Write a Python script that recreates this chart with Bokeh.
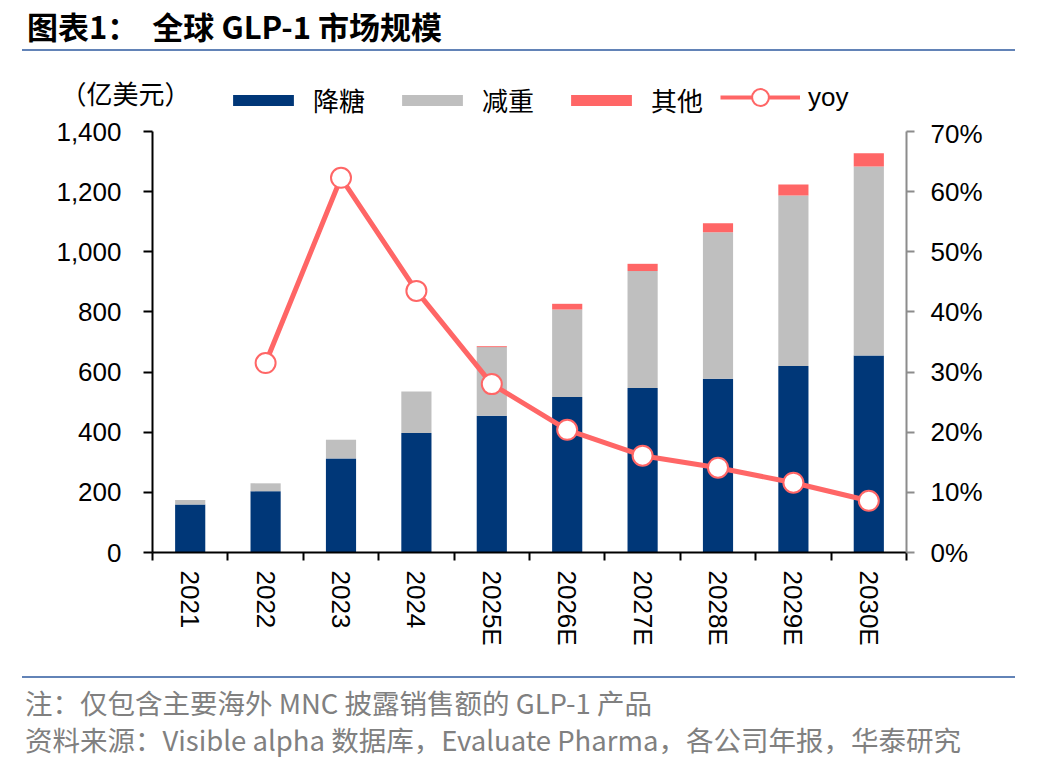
import math
from bokeh.plotting import figure
from bokeh.models import (ColumnDataSource, Range1d, LinearAxis, FixedTicker,
                          NumeralTickFormatter, Legend, LegendItem, Div)
from bokeh.layouts import column
from bokeh.embed import file_html
from bokeh.resources import INLINE

# ---- data ----
years = ["2021", "2022", "2023", "2024", "2025E", "2026E", "2027E", "2028E", "2029E", "2030E"]
diabetes = [160, 204, 313, 397, 455, 517, 547, 578, 620, 655]      # 降糖
obesity = [15, 26, 62, 138, 228, 291, 389, 487, 567, 629]          # 减重
others = [0, 0, 0, 0, 3, 19, 24, 30, 37, 44]                       # 其他
yoy_years = ["2022", "2023", "2024", "2025E", "2026E", "2027E", "2028E", "2029E", "2030E"]
yoy = [31.5, 62.3, 43.5, 28.0, 20.4, 16.1, 14.1, 11.6, 8.6]        # %
left_ticks = [0, 200, 400, 600, 800, 1000, 1200, 1400]
right_ticks = [0, 10, 20, 30, 40, 50, 60, 70]
series_names = ["降糖", "减重", "其他"]
line_name = "yoy"
unit_text = "（亿美元）"

CJK = "Noto Sans CJK SC"
LAT = "Liberation Sans"
BLUE = "#003778"
GRAY = "#BFBFBF"
RED = "#FF6666"
RULE = "#6283B7"
colors = [BLUE, GRAY, RED]

idx = list(range(len(years)))
src = ColumnDataSource(dict(x=idx, diabetes=diabetes, obesity=obesity, others=others))
yoy_x = [years.index(y) for y in yoy_years]
lsrc = ColumnDataSource(dict(x=yoy_x, yoy=yoy))

BL, BR = 152, 142           # left / right borders (frame 152..906)

# ---------- legend strip (own small figure, frames are aligned with the chart) ----------
lf = figure(width=1048, height=66, output_backend="svg", toolbar_location=None,
            x_range=Range1d(0, 1), y_range=Range1d(0, 1),
            x_axis_type=None, y_axis_type=None,
            min_border_left=BL, min_border_right=BR, min_border_top=14, min_border_bottom=0)
lf.outline_line_color = None
lf.grid.visible = False
off = ColumnDataSource(dict(x=[-10.0], y=[-10.0]))   # legend proxies, kept off-view
proxies = [lf.vbar(x="x", top="y", width=0.1, source=off, fill_color=c, line_color=None)
           for c in colors]
pl = lf.line(x="x", y="y", source=off, line_color=RED, line_width=4)
ps = lf.scatter(x="x", y="y", source=off, marker="circle", size=17,
                fill_color="white", line_color=RED, line_width=2)

leg1 = Legend(items=[LegendItem(label=n, renderers=[r]) for n, r in zip(series_names, proxies)],
              orientation="horizontal", location=(225 - BL, 0), padding=0, margin=0,
              spacing=29, label_standoff=12, glyph_width=76, glyph_height=14,
              label_text_font=CJK, label_text_font_size="26px", label_text_color="black",
              border_line_color=None, background_fill_alpha=0)
leg2 = Legend(items=[LegendItem(label=line_name, renderers=[pl, ps])],
              orientation="horizontal", location=(720 - BL, 0), padding=0, margin=0,
              label_standoff=8, glyph_width=80, glyph_height=42,
              label_text_font=LAT, label_text_font_size="26px", label_text_color="black",
              border_line_color=None, background_fill_alpha=0)
lf.add_layout(leg1, "center")
lf.add_layout(leg2, "center")

ua = LinearAxis(ticker=FixedTicker(ticks=[]), axis_label=unit_text,
                axis_label_orientation="horizontal", axis_label_standoff=-38,
                axis_label_text_font=CJK, axis_label_text_font_size="26px",
                axis_label_text_font_style="normal", axis_label_text_color="black",
                axis_line_color=None, major_tick_line_color=None,
                minor_tick_line_color=None, major_label_text_font_size="0px")
lf.add_layout(ua, "left")

# ---------- main chart ----------
TOP = 13
p = figure(width=1048, height=TOP + 421 + 120, output_backend="svg", toolbar_location=None,
           x_range=Range1d(-0.5, len(years) - 0.5), y_range=Range1d(0, 1400),
           min_border_left=BL, min_border_right=BR, min_border_top=TOP,
           min_border_bottom=120)
p.outline_line_color = None
p.xgrid.grid_line_color = None
p.ygrid.grid_line_color = None
p.extra_y_ranges = {"yoy": Range1d(0, 70)}

bars = p.vbar_stack(["diabetes", "obesity", "others"], x="x", width=0.4, source=src,
                    color=colors, line_color=None)
ln = p.line("x", "yoy", source=lsrc, y_range_name="yoy", line_color=RED, line_width=5)
sc = p.scatter("x", "yoy", source=lsrc, y_range_name="yoy", size=20, marker="circle",
               fill_color="white", line_color=RED, line_width=2)

# left axis
ya = p.yaxis[0]
ya.ticker = FixedTicker(ticks=left_ticks)
ya.formatter = NumeralTickFormatter(format="0,0")
ya.minor_tick_line_color = None
ya.major_tick_out = 9
ya.major_tick_in = 0
ya.major_label_standoff = 22
ya.axis_line_width = 2
ya.major_tick_line_width = 2
ya.major_label_text_font = LAT
ya.major_label_text_font_size = "26px"
ya.major_label_text_color = "black"

# right axis
ra = LinearAxis(y_range_name="yoy", ticker=FixedTicker(ticks=right_ticks),
                major_label_overrides={t: f"{t}%" for t in right_ticks})
ra.minor_tick_line_color = None
ra.major_tick_out = 8
ra.major_tick_in = 0
ra.major_label_standoff = 16
ra.axis_line_color = "#8C8C8C"
ra.major_tick_line_color = "#8C8C8C"
ra.axis_line_width = 2
ra.major_tick_line_width = 2
ra.major_label_text_font = LAT
ra.major_label_text_font_size = "26px"
ra.major_label_text_color = "black"
p.add_layout(ra, "right")

# x axis
xa = p.xaxis[0]
xa.ticker = FixedTicker(ticks=idx, minor_ticks=[i - 0.5 for i in range(len(years) + 1)])
xa.major_label_overrides = {i: y for i, y in zip(idx, years)}
xa.major_tick_line_color = None
xa.major_tick_out = 0
xa.major_tick_in = 0
xa.minor_tick_out = 8
xa.minor_tick_in = 0
xa.minor_tick_line_width = 2
xa.axis_line_width = 2
xa.major_label_standoff = 10
xa.major_label_orientation = -math.pi / 2
xa.major_label_text_font = LAT
xa.major_label_text_font_size = "26px"
xa.major_label_text_color = "black"

title = Div(text=(
    '<div style="margin-left:22px;width:993px;height:51px;box-sizing:border-box;'
    'border-bottom:2px solid ' + RULE + ';padding-left:5px;padding-top:6px;'
    "font-family:'Noto Sans CJK SC';font-weight:bold;font-size:31px;line-height:40px;"
    'white-space:pre;color:#000">图表1：  全球 GLP-1 市场规模</div>'),
    width=1048, height=52, margin=0)

footer = Div(text=(
    '<div style="margin-left:22px;margin-top:4px;width:993px;border-top:2px solid ' + RULE + ';'
    "padding-top:6px;padding-left:3px;font-family:'Noto Sans CJK SC';font-size:27.5px;"
    'line-height:37px;color:#808080;white-space:nowrap">'
    '注：仅包含主要海外 MNC 披露销售额的 GLP-1 产品<br>'
    '资料来源：Visible alpha 数据库，Evaluate Pharma，各公司年报，华泰研究</div>'),
    width=1048, height=96, margin=0)

layout = column(title, lf, p, footer, spacing=0)
open("out.html", "w").write(file_html(layout, INLINE))
